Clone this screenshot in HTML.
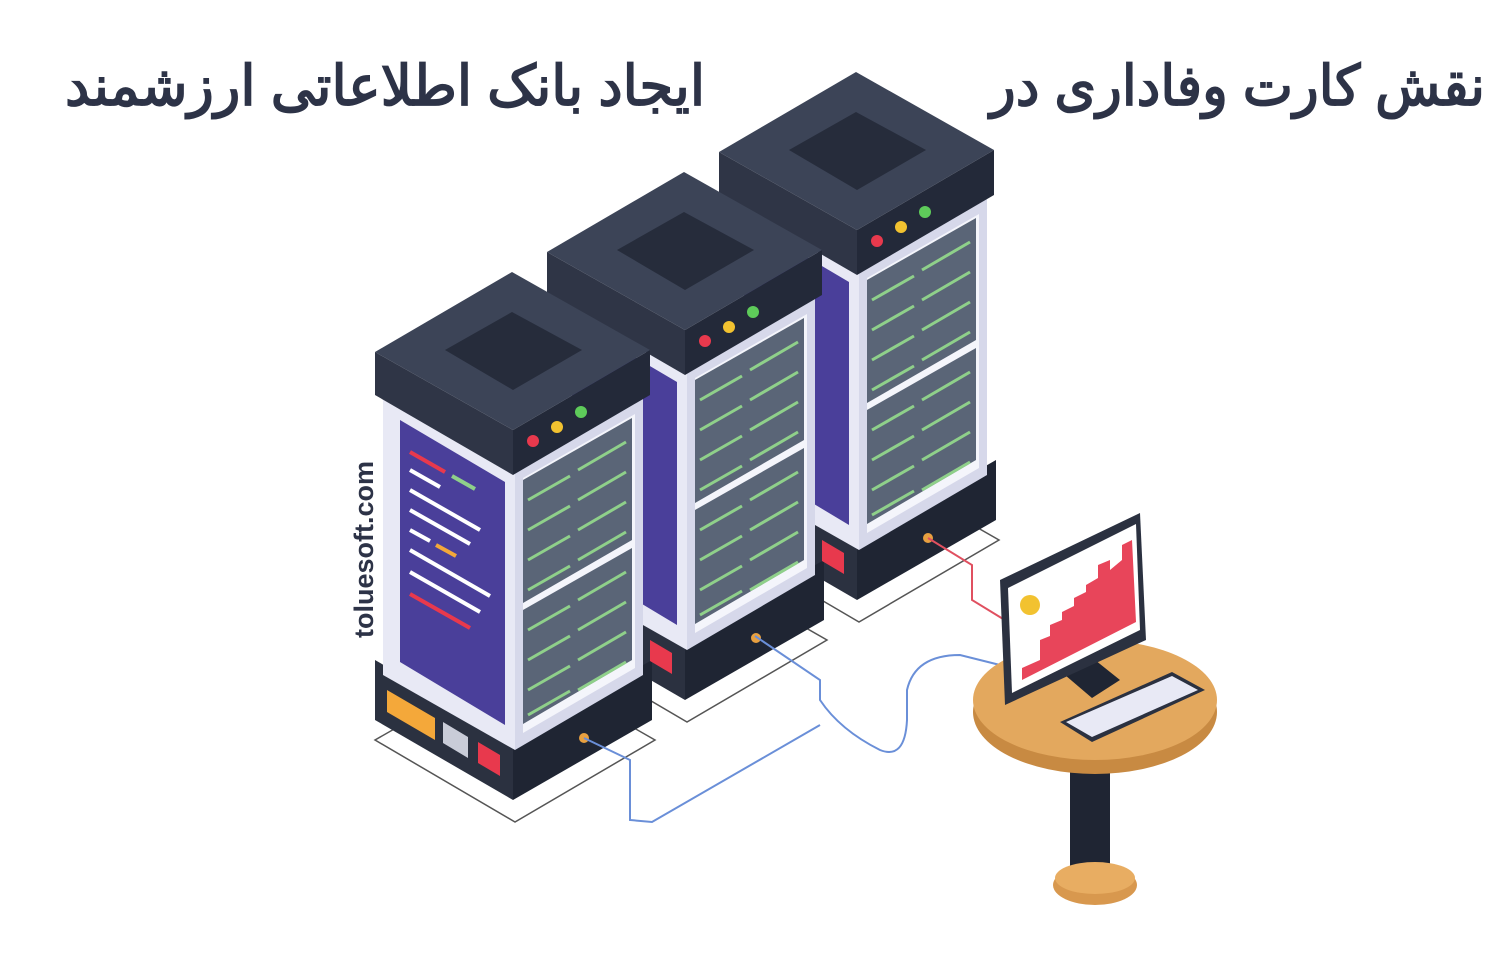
<!DOCTYPE html>
<html><head><meta charset="utf-8"><style>html,body{margin:0;padding:0;background:#fff}svg{display:block}</style></head>
<body>
<svg width="1504" height="980" viewBox="0 0 1504 980" xmlns="http://www.w3.org/2000/svg">
<defs>
<g id="tower">
  <!-- floor outline -->
  <polygon points="375,740 515,822 655,740 515,660" fill="none" stroke="#555" stroke-width="1.5"/>
  <!-- base -->
  <polygon points="375,660 513,740 513,800 375,720" fill="#2b3140"/>
  <polygon points="513,740 652,660 652,720 513,800" fill="#1f2533"/>
  <!-- body -->
  <polygon points="383,395 515,470 515,750 383,675" fill="#e8e9f5"/>
  <polygon points="400,420 505,482 505,725 400,662" fill="#4a3f9a"/>
  <polygon points="515,470 643,397 643,675 515,750" fill="#d6d8ea"/>
  <polygon points="523,478 635,414 635,668 523,733" fill="#f4f5fb"/>
  <polygon points="523,480 632,418 632,540 523,603" fill="#5a6577"/>
  <polygon points="523,610 632,548 632,660 523,724" fill="#5a6577"/>
  <g stroke="#8fd08a" stroke-width="3">
    <line x1="528" y1="500" x2="570" y2="476"/><line x1="578" y1="470" x2="626" y2="442"/>
    <line x1="528" y1="530" x2="570" y2="506"/><line x1="578" y1="500" x2="626" y2="472"/>
    <line x1="528" y1="560" x2="570" y2="536"/><line x1="578" y1="530" x2="626" y2="502"/>
    <line x1="528" y1="590" x2="570" y2="566"/><line x1="578" y1="560" x2="626" y2="532"/>
    <line x1="528" y1="630" x2="570" y2="606"/><line x1="578" y1="600" x2="626" y2="572"/>
    <line x1="528" y1="660" x2="570" y2="636"/><line x1="578" y1="630" x2="626" y2="602"/>
    <line x1="528" y1="690" x2="570" y2="666"/><line x1="578" y1="660" x2="626" y2="632"/>
    <line x1="528" y1="715" x2="570" y2="691"/><line x1="578" y1="690" x2="626" y2="662"/>
  </g>
  <!-- cap -->
  <polygon points="375,352 513,430 513,475 375,395" fill="#2f3546"/>
  <polygon points="513,430 650,350 650,395 513,475" fill="#232939"/>
  <polygon points="375,352 512,272 650,350 513,430" fill="#3c4457"/>
  <polygon points="445,350 512,312 582,350 513,390" fill="#262c3b"/>
  <circle cx="533" cy="441" r="6" fill="#e8394d"/>
  <circle cx="557" cy="427" r="6" fill="#f2c230"/>
  <circle cx="581" cy="412" r="6" fill="#5ecb5a"/>
  <circle cx="584" cy="738" r="5" fill="#e8a040"/>
</g>
</defs>

<text x="1485" y="105" direction="rtl" text-anchor="start" font-family="'Liberation Sans','Noto Sans CJK SC',sans-serif" font-weight="bold" font-size="56" fill="#2d3347" textLength="495" lengthAdjust="spacingAndGlyphs">نقش کارت وفاداری در</text>
<text x="705" y="105" direction="rtl" text-anchor="start" font-family="'Liberation Sans','Noto Sans CJK SC',sans-serif" font-weight="bold" font-size="56" fill="#2d3347" textLength="640" lengthAdjust="spacingAndGlyphs">ایجاد بانک اطلاعاتی ارزشمند</text>

<use href="#tower" x="344" y="-200"/>
<use href="#tower" x="172" y="-100"/>
<use href="#tower"/>

<!-- base details tower1 -->
<polygon points="387,690 435,718 435,740 387,712" fill="#f4a83a"/>
<polygon points="443,722 468,737 468,758 443,743" fill="#c9ccd8"/>
<polygon points="478,742 500,755 500,776 478,763" fill="#e8394d"/>
<polygon points="650,640 672,653 672,674 650,661" fill="#e8394d"/>
<polygon points="822,540 844,553 844,574 822,561" fill="#e8394d"/>
<!-- purple panel lines tower1 -->
<g stroke-width="4">
<line x1="410" y1="452" x2="445" y2="472" stroke="#e8394d"/>
<line x1="452" y1="476" x2="475" y2="489" stroke="#8fd08a"/>
<line x1="410" y1="470" x2="440" y2="487" stroke="#fff"/>
<line x1="410" y1="490" x2="480" y2="530" stroke="#fff"/>
<line x1="410" y1="510" x2="470" y2="544" stroke="#fff"/>
<line x1="410" y1="530" x2="430" y2="541" stroke="#fff"/><line x1="436" y1="545" x2="456" y2="556" stroke="#f4a83a"/>
<line x1="410" y1="550" x2="490" y2="596" stroke="#fff"/>
<line x1="410" y1="572" x2="480" y2="612" stroke="#fff"/>
<line x1="410" y1="594" x2="470" y2="628" stroke="#e8394d"/>
</g>

<!-- cables -->
<polyline points="928,538 972,565 972,600 1008,622" fill="none" stroke="#e05060" stroke-width="2"/>
<path d="M755,636 L820,680 L820,700 Q840,730 880,750 Q905,760 907,720 L907,690 Q915,655 960,655 L1000,665" fill="none" stroke="#6a8fd8" stroke-width="2"/>
<path d="M584,738 L630,760 L630,820 L652,822 L820,725" fill="none" stroke="#6a8fd8" stroke-width="2"/>

<!-- table -->
<rect x="1070" y="760" width="40" height="115" fill="#1f2533"/>
<ellipse cx="1095" cy="885" rx="42" ry="20" fill="#d8984e"/>
<ellipse cx="1095" cy="878" rx="40" ry="16" fill="#e8ad62"/>
<ellipse cx="1095" cy="712" rx="122" ry="62" fill="#c88a42"/>
<ellipse cx="1095" cy="700" rx="122" ry="60" fill="#e3a85e"/>
<!-- monitor -->
<polygon points="1065,675 1095,660 1120,680 1092,698" fill="#1f2533"/>
<polygon points="1000,580 1140,513 1146,640 1005,705" fill="#2b3140"/>
<polygon points="1008,588 1136,524 1140,630 1012,693" fill="#ffffff"/>
<polygon points="1022,668 1040,660 1040,640 1050,636 1050,625 1062,620 1062,612 1074,606 1074,598 1086,592 1086,585 1098,578 1098,565 1110,560 1110,570 1122,560 1122,545 1132,540 1136,622 1022,680" fill="#e8455a"/>
<circle cx="1030" cy="605" r="10" fill="#f2c230"/>
<!-- keyboard -->
<polygon points="1060,722 1172,672 1205,690 1092,742" fill="#2b3140"/>
<polygon points="1066,722 1172,676 1198,690 1092,737" fill="#e8e9f5"/>

<text transform="translate(373,638) rotate(-90)" font-family="'Liberation Sans',sans-serif" font-weight="bold" font-size="27" fill="#2d3347">toluesoft.com</text>
</svg>
</body></html>
